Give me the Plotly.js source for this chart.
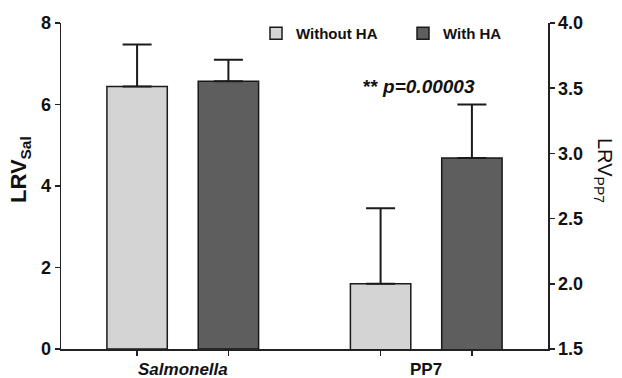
<!DOCTYPE html>
<html>
<head>
<meta charset="utf-8">
<script src="https://cdn.plot.ly/plotly-3.0.1.min.js"></script>
<style>html,body{margin:0;padding:0;background:#fff;}#chart{width:622px;height:378px;}</style>
</head>
<body>
<div id="chart"></div>
<script>
// ---- data ----
const categories = ['Salmonella', 'PP7'];
const seriesNames = ['Without HA', 'With HA'];
// index 0 -> Salmonella (left axis, LRV_Sal), index 1 -> PP7 (right axis, LRV_PP7)
const withoutHA = [6.44, 2.00];
const withoutHAErr = [1.03, 0.58];
const withHA = [6.57, 2.965];
const withHAErr = [0.53, 0.41];
const annotationText = '** <i>p=0.00003</i>';
const leftTitle = 'LRV<sub>Sal</sub>';
const rightTitle = 'LRV<sub>PP7</sub>';

// ---- style ----
const FONT = 'Liberation Sans, Arial, sans-serif';
const lightColor = '#d4d4d4';
const darkColor = '#5e5e5e';
const edge = '#1a1a1a';
const barW = 0.248;
const half = 0.1875;

const series = [
  {name: seriesNames[0], vals: withoutHA, errs: withoutHAErr, color: lightColor, offset: -half - barW / 2},
  {name: seriesNames[1], vals: withHA, errs: withHAErr, color: darkColor, offset: half - barW / 2}
];

const traces = [];
categories.forEach((cat, ci) => {
  series.forEach(s => {
    traces.push({
      type: 'bar',
      x: [cat],
      y: [s.vals[ci]],
      name: s.name,
      showlegend: ci === 0,
      yaxis: ci === 0 ? 'y' : 'y2',
      width: barW,
      offset: s.offset,
      marker: {color: s.color, line: {color: edge, width: 1.5}},
      error_y: {type: 'data', symmetric: false, array: [s.errs[ci]], arrayminus: [0],
                color: edge, thickness: 2, width: 14.5},
      hoverinfo: 'skip'
    });
  });
});

const tickvals = [];
categories.forEach((c, i) => { tickvals.push(i - half, i + half); });

const annotations = [
  {text: annotationText, xref: 'paper', yref: 'paper', x: (419 - 61) / 487, y: (349 - 86) / 326,
   xanchor: 'center', yanchor: 'middle', showarrow: false,
   font: {family: FONT, size: 19, color: '#111', weight: 'bold'}},
  {text: leftTitle, xref: 'paper', yref: 'paper', x: 0, xshift: -41, y: (349 - 170) / 326,
   xanchor: 'center', yanchor: 'middle', showarrow: false, textangle: -90,
   font: {family: FONT, size: 22, color: '#111', weight: 'bold'}},
  {text: rightTitle, xref: 'paper', yref: 'paper', x: 1, xshift: 55, y: (349 - 170) / 326,
   xanchor: 'center', yanchor: 'middle', showarrow: false, textangle: 90,
   font: {family: FONT, size: 20, color: '#111'}}
];
categories.forEach((c, i) => {
  annotations.push({
    text: i === 0 ? '<i>' + c + '</i>' : c, xref: 'x', yref: 'paper', x: c, y: 0, yshift: -20,
    xanchor: 'center', yanchor: 'middle', showarrow: false, borderpad: 0,
    font: {family: FONT, size: 17, color: '#111', weight: 'bold'}
  });
});

const axisCommon = {
  showgrid: false, zeroline: false, showline: true, linecolor: '#222', linewidth: 1.5,
  ticks: 'outside', ticklen: 5, tickwidth: 1.5, tickcolor: '#222',
  tickfont: {family: FONT, size: 18, color: '#111', weight: 'bold'}, fixedrange: true
};

const layout = {
  width: 622, height: 378,
  margin: {l: 61, r: 74, t: 23, b: 29, pad: 0},
  paper_bgcolor: '#fff', plot_bgcolor: '#fff',
  barmode: 'overlay',
  showlegend: true,
  legend: {orientation: 'h', x: (256 - 61) / 487, y: (349 - 33.5) / 326, xanchor: 'left', yanchor: 'middle',
           font: {family: FONT, size: 15, color: '#111', weight: 'bold'}, bgcolor: 'rgba(0,0,0,0)',
           entrywidth: 102, traceorder: 'normal'},
  xaxis: Object.assign({}, axisCommon, {
    type: 'category', categoryorder: 'array', categoryarray: categories,
    range: [-0.5, 1.5], tickmode: 'array', tickvals: tickvals, showticklabels: false,
    anchor: 'y'
  }),
  yaxis: Object.assign({}, axisCommon, {range: [0, 8], tickmode: 'linear', tick0: 0, dtick: 2, side: 'left'}),
  yaxis2: Object.assign({}, axisCommon, {range: [1.5, 4], tickmode: 'linear', tick0: 1.5, dtick: 0.5,
    tickformat: '.1f', side: 'right', overlaying: 'y', anchor: 'x'}),
  annotations: annotations
};

Plotly.newPlot('chart', traces, layout, {displayModeBar: false, staticPlot: true});
</script>
</body>
</html>
